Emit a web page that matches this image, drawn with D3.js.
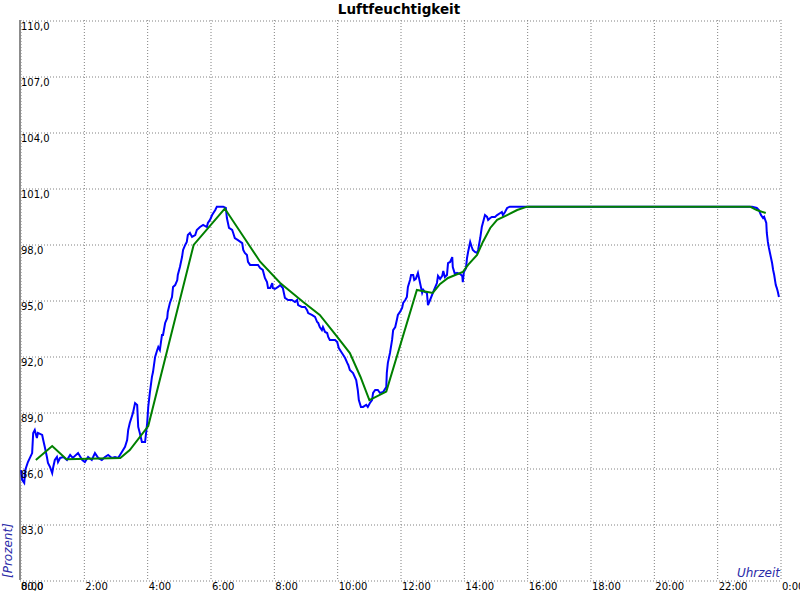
<!DOCTYPE html>
<html>
<head>
<meta charset="utf-8">
<script src="https://cdn.jsdelivr.net/npm/d3@7"></script>
<style>
  html, body { margin: 0; padding: 0; background: #fff; }
  svg { display: block; }
</style>
</head>
<body>
<svg id="chart" width="800" height="600"></svg>
<script>
// ---- DATA ----
const chartTitle = "Luftfeuchtigkeit";
const yAxisTitle = "[Prozent]";
const xAxisTitle = "Uhrzeit";
const yTicks = [80, 83, 86, 89, 92, 95, 98, 101, 104, 107, 110];
const xTickMinutes = [0, 120, 240, 360, 480, 600, 720, 840, 960, 1080, 1200, 1320, 1440];
const xTickLabels = ["0:00", "2:00", "4:00", "6:00", "8:00", "10:00", "12:00", "14:00", "16:00", "18:00", "20:00", "22:00", "0:00"];

// measured humidity (minutes since midnight, percent)
const blueMinutes = [2,4,8,10,15,23,25,28,32,34,42,44,47,51,53,57,61,63,66,70,72,76,82,89,95,100,110,118,123,129,136,142,148,155,161,167,174,180,186,193,199,203,205,208,214,218,222,224,227,231,237,241,243,246,250,252,256,260,262,265,269,271,275,279,280,284,288,290,294,298,299,303,307,309,313,316,318,322,326,332,335,341,347,354,356,360,364,370,373,385,390,392,396,402,404,407,413,421,423,426,430,432,436,445,451,455,460,464,468,470,474,478,479,483,489,493,498,502,508,515,521,525,527,534,540,544,546,553,559,563,565,568,572,574,578,582,584,587,597,601,604,610,616,620,622,625,631,637,640,642,646,650,656,659,663,667,669,673,678,682,688,694,695,697,701,705,707,711,714,716,720,724,726,730,733,735,739,741,745,747,750,754,758,762,764,767,771,773,777,783,786,790,792,796,800,802,805,809,811,815,819,820,824,828,834,838,839,841,845,847,849,853,856,858,862,866,868,872,875,877,881,885,887,891,894,900,904,910,913,915,919,923,928,1387,1396,1400,1404,1408,1410,1414,1415,1417,1419,1421,1423,1425,1427,1429,1432,1434,1436,1438];
const blueValues = [85.89,85.36,85.20,85.89,86.32,86.80,87.88,88.04,87.61,87.88,87.77,87.50,87.13,86.59,86.27,86.05,85.73,86.05,86.43,86.59,86.32,86.54,86.59,86.43,86.70,86.54,86.80,86.43,86.32,86.59,86.43,86.80,86.54,86.43,86.59,86.70,86.54,86.59,86.54,86.86,87.13,87.50,88.04,88.41,88.95,89.48,89.38,88.20,87.88,87.39,87.39,88.41,89.27,90.02,90.88,91.14,91.95,92.32,92.48,92.32,93.13,93.13,93.77,94.04,94.36,94.84,95.16,95.70,95.80,96.07,96.34,96.77,97.30,97.68,97.95,98.11,98.48,98.59,98.38,98.48,98.75,98.91,99.02,98.91,99.13,99.29,99.55,99.82,100.0,100.0,99.93,99.39,98.86,98.75,98.59,98.32,98.21,98.05,97.68,97.52,97.41,97.04,96.88,96.88,96.88,96.71,96.61,96.18,95.96,95.64,95.64,95.91,95.64,95.59,95.70,95.80,95.64,95.11,95.00,95.00,94.89,95.00,94.73,94.63,94.63,94.46,94.30,94.20,94.09,93.82,93.77,93.55,93.39,93.55,93.29,93.23,93.02,92.86,92.86,92.75,92.43,92.16,91.89,91.63,91.52,91.25,91.09,90.71,90.18,89.64,89.27,89.27,89.38,89.27,89.48,89.64,90.02,90.18,90.18,90.02,90.07,90.34,91.09,91.63,92.16,92.86,93.39,93.55,93.93,94.20,94.36,94.57,94.84,95.00,95.16,95.70,96.07,96.34,96.34,96.07,96.13,96.45,95.91,95.38,95.54,95.43,95.38,94.73,95.00,95.43,95.64,95.91,96.29,96.13,96.29,96.55,96.23,96.34,96.98,97.04,97.30,96.77,96.39,96.45,96.39,96.29,95.96,96.50,96.71,97.25,97.57,98.11,97.84,97.68,97.57,97.52,97.68,98.32,98.91,99.13,99.55,99.45,99.29,99.39,99.45,99.45,99.55,99.66,99.71,99.55,99.71,99.93,100.0,100.0,99.93,99.82,99.55,99.39,99.45,99.13,98.59,98.11,97.79,97.52,97.25,96.98,96.61,96.34,95.80,95.64,95.43,95.16];

// smoothed humidity
const greenMinutes = [30,61,88,190,208,243,329,388,455,493,536,568,600,625,645,662,694,752,782,796,811,839,849,866,877,891,904,923,942,961,1383,1396,1413];
const greenValues = [86.43,87.18,86.47,86.54,86.96,88.25,97.95,99.90,97.05,95.91,94.91,94.20,93.07,92.16,90.89,89.64,90.09,95.54,95.38,95.86,96.18,96.50,96.88,97.41,98.11,98.86,99.29,99.55,99.82,100.0,100.0,99.82,99.66];

// ---- CHART ----
const svg = d3.select("#chart");
const W = 800, H = 600;
const mLeft = 20, mRight = 780, mTop = 20, mBottom = 580;

const x = d3.scaleLinear().domain([0, 1440]).range([mLeft, mRight]);
const y = d3.scaleLinear().domain([80, 110]).range([mBottom, mTop]);

svg.append("rect").attr("width", W).attr("height", H).attr("fill", "#fff");

// gridlines via axes
const gridColor = "#808080";
const yGrid = svg.append("g")
  .attr("transform", `translate(${mLeft},0.5)`)
  .call(d3.axisRight(y).tickValues(yTicks).tickSize(mRight - mLeft).tickFormat(""));
yGrid.select(".domain").remove();
yGrid.selectAll("line").attr("stroke", gridColor).attr("stroke-dasharray", "1,2");

const xGrid = svg.append("g")
  .attr("transform", `translate(0.5,${mTop})`)
  .call(d3.axisBottom(x).tickValues(xTickMinutes).tickSize(mBottom - mTop).tickFormat(""));
xGrid.select(".domain").remove();
xGrid.selectAll("line").attr("stroke", gridColor).attr("stroke-dasharray", "1,2");

// left solid axis line
svg.append("line")
  .attr("x1", mLeft).attr("x2", mLeft)
  .attr("y1", mTop).attr("y2", mBottom)
  .attr("stroke", "#8c8c8c").attr("stroke-width", 2);

// data lines
const blueData = blueMinutes.map((m, i) => [m, blueValues[i]]);
const greenData = greenMinutes.map((m, i) => [m, greenValues[i]]);
const line = d3.line().x(d => x(d[0])).y(d => y(d[1]));

svg.append("path").datum(blueData)
  .attr("d", line).attr("fill", "none")
  .attr("stroke", "#0000ff").attr("stroke-width", 2)
  .attr("stroke-linejoin", "miter");

svg.append("path").datum(greenData)
  .attr("d", line).attr("fill", "none")
  .attr("stroke", "#008000").attr("stroke-width", 2);

// tick labels
const fmt = v => d3.format(".1f")(v).replace(".", ",");
const labelFont = "DejaVu Sans";
svg.append("g").selectAll("text").data(yTicks).join("text")
  .attr("x", mLeft + 1)
  .attr("y", d => y(d) + 10)
  .attr("font-family", labelFont).attr("font-size", 10)
  .attr("fill", "#000")
  .text(fmt);

svg.append("g").selectAll("text").data(xTickMinutes).join("text")
  .attr("x", d => x(d) + (d === 0 ? 1 : 2))
  .attr("y", mBottom + 10)
  .attr("font-family", labelFont).attr("font-size", 10)
  .attr("fill", "#000")
  .text((d, i) => xTickLabels[i]);

// title
svg.append("text")
  .attr("x", 399).attr("y", 14)
  .attr("text-anchor", "middle")
  .attr("font-family", labelFont).attr("font-size", 13.5).attr("font-weight", "bold")
  .attr("fill", "#000")
  .text(chartTitle);

// axis titles
svg.append("text")
  .attr("transform", `translate(12,${mBottom - 2}) rotate(-90)`)
  .attr("font-family", labelFont).attr("font-size", 12).attr("font-style", "italic")
  .attr("fill", "#2a2aa8")
  .text(yAxisTitle);

svg.append("text")
  .attr("x", mRight).attr("y", mBottom - 3)
  .attr("text-anchor", "end")
  .attr("font-family", labelFont).attr("font-size", 12).attr("font-style", "italic")
  .attr("fill", "#2a2aa8")
  .text(xAxisTitle);
</script>
</body>
</html>
